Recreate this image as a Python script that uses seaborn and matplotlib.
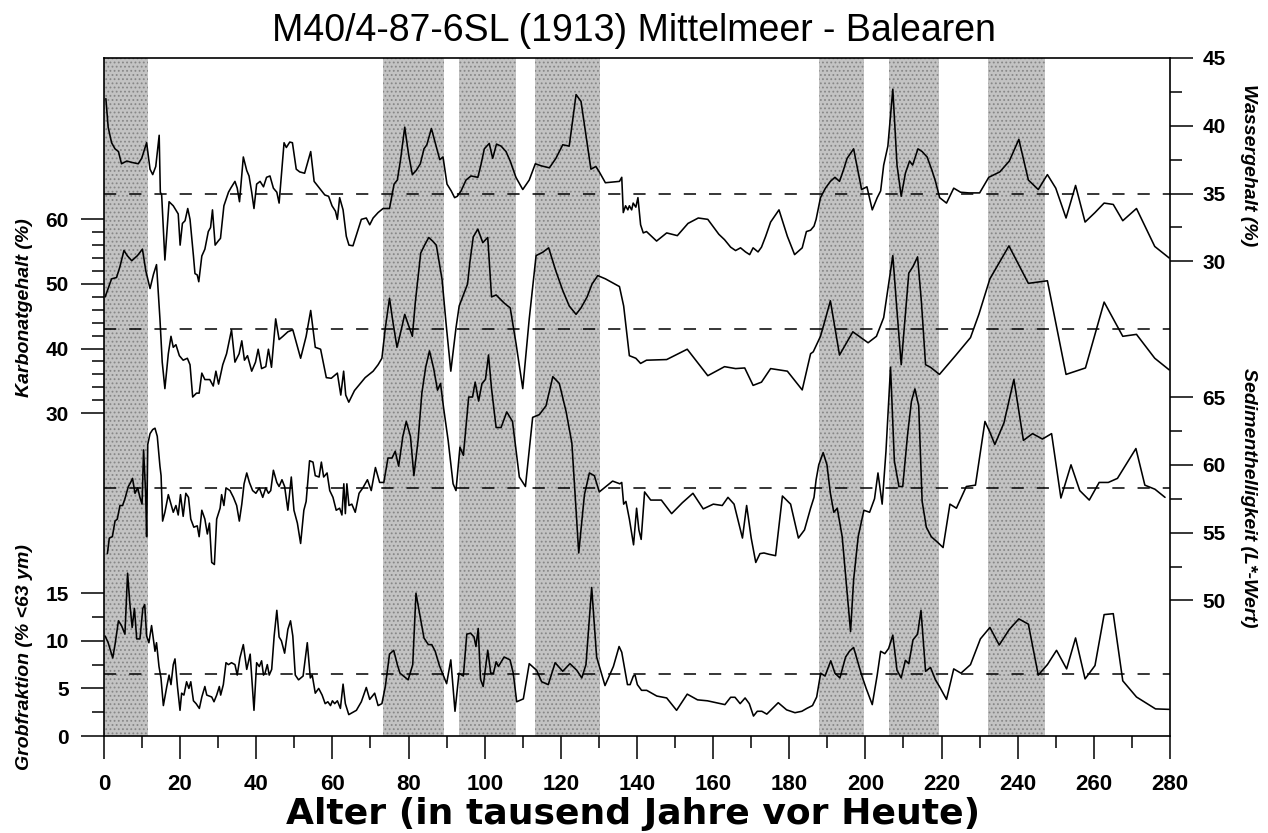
import matplotlib
matplotlib.use("Agg")
import matplotlib.pyplot as plt
import seaborn as sns

# ---------- data ----------
# ages in ka BP, values in the unit of each record

age_wasser = [
    0.5, 1.1, 2.0, 2.9, 3.8, 4.6, 6.0, 7.3, 9.0, 9.9,
    11.2, 12.1, 12.8, 13.6, 14.5, 14.8, 15.15, 16.0, 17.1, 18.2,
    19.5, 20.0, 20.6, 21.3, 22.0, 22.6, 23.5, 23.9, 24.5, 24.9,
    25.7, 26.5, 27.4, 28.0, 28.5, 29.2, 30.0, 30.6, 31.5, 32.7,
    33.3, 34.4, 35.0, 35.6, 36.6, 37.5, 38.1, 38.8, 39.4, 40.1,
    41.0, 41.9, 42.7, 43.6, 44.5, 45.4, 46.0, 47.3, 47.9, 48.8,
    49.5, 50.5, 51.4, 52.7, 54.3, 55.2, 56.6, 58.0, 59.0, 59.9,
    60.8, 61.3, 61.9, 62.8, 63.65, 64.35, 65.4, 66.7, 67.6, 68.9,
    69.8, 70.7, 72.0, 73.3, 75.0, 76.2, 77.05, 77.9, 79.0, 80.0,
    81.0, 82.0, 83.1, 84.05, 84.8, 86.0, 87.0, 88.2, 89.05, 90.1,
    91.2, 92.1, 92.8, 93.8, 95.1, 96.4, 98.2, 99.0, 99.9, 101.2,
    102.1, 103.1, 104.3, 105.6, 106.7, 108.2, 110.0, 111.7, 113.3, 114.8,
    117.0, 118.7, 120.5, 122.2, 124.0, 125.3, 126.8, 127.9, 129.2, 130.1,
    131.7, 135.4, 136.0, 136.4, 137.0, 137.6, 138.0, 138.6, 139.0, 139.7,
    140.25, 140.95, 141.65, 142.5, 145.15, 147.8, 150.6, 153.4, 156.1, 158.6,
    161.5, 163.0, 164.6, 165.9, 167.2, 168.5, 169.6, 170.5, 171.8, 172.7,
    173.8, 175.1, 177.3, 179.5, 181.4, 183.4, 184.5, 185.6, 186.5, 187.05,
    188.2, 189.5, 190.8, 192.0, 193.2, 194.3, 195.2, 196.9, 199.0, 200.4,
    201.8, 203.1, 204.0, 204.8, 205.9, 206.6, 207.2, 208.3, 209.4, 210.5,
    211.6, 212.4, 213.8, 214.9, 216.2, 217.5, 218.4, 219.5, 221.3, 223.2,
    225.0, 227.2, 230.0, 232.4, 235.3, 237.8, 240.3, 242.8, 245.4, 247.8,
    250.0, 252.7, 255.2, 257.7, 260.3, 262.7, 265.1, 267.6, 271.2, 276.0,
    279.8,
]
wasser = [
    42.0, 39.9, 38.75, 38.3, 38.1, 37.2, 37.4, 37.3, 37.2, 37.6,
    38.75, 36.8, 36.4, 37.0, 39.3, 35.1, 34.9, 30.1, 34.4, 34.1,
    33.5, 31.2, 32.8, 33.0, 33.9, 33.1, 30.4, 29.1, 29.0, 28.5,
    30.4, 30.9, 32.2, 32.5, 33.8, 31.2, 31.5, 31.7, 34.1, 35.1,
    35.4, 35.9, 35.4, 34.4, 37.7, 36.7, 36.3, 35.1, 33.9, 35.7,
    35.9, 35.5, 36.2, 36.3, 35.4, 35.1, 34.3, 38.75, 38.4, 38.8,
    38.75, 36.8, 36.6, 36.5, 38.1, 35.9, 35.4, 34.9, 34.8, 34.1,
    33.7, 33.1, 34.7, 33.8, 31.85, 31.2, 31.15, 32.3, 33.1, 33.2,
    32.7, 33.2, 33.6, 33.9, 33.9, 35.7, 36.0, 37.5, 39.9, 37.9,
    36.4, 36.7, 37.2, 38.3, 38.6, 39.8, 38.75, 37.5, 37.7, 35.7,
    35.2, 34.7, 34.8, 35.2, 36.0, 36.3, 36.2, 37.1, 38.3, 38.7,
    37.6, 38.65, 38.5, 38.1, 37.4, 36.2, 35.3, 36.0, 37.2, 37.05,
    36.9, 37.6, 38.6, 38.5, 42.3, 41.8, 38.9, 36.8, 37.0, 36.6,
    35.8, 35.9, 36.2, 33.6, 34.1, 33.8, 34.1, 33.8, 34.3, 34.0,
    34.7, 32.7, 32.1, 32.2, 31.5, 32.1, 31.9, 32.8, 33.2, 33.1,
    32.0, 31.6, 31.05, 30.8, 31.0, 30.7, 30.5, 31.0, 30.7, 31.05,
    31.85, 32.9, 33.8, 31.85, 30.5, 31.0, 32.2, 32.3, 32.6, 33.1,
    34.7, 35.4, 35.9, 36.2, 35.9, 36.8, 37.6, 38.3, 35.3, 35.5,
    33.8, 34.7, 35.2, 37.1, 38.5, 40.8, 42.7, 37.1, 34.8, 36.5,
    37.4, 37.1, 38.3, 38.1, 37.7, 36.7, 35.9, 34.7, 34.3, 35.4,
    35.1, 35.05, 35.05, 36.2, 36.6, 37.4, 39.0, 36.0, 35.3, 36.4,
    35.4, 33.2, 35.6, 32.9, 33.6, 34.3, 34.2, 33.0, 33.9, 31.1,
    30.25,
]

age_karbonat = [
    0.3, 1.1, 2.0, 3.3, 4.2, 5.25, 6.1, 7.3, 8.8, 10.1,
    11.0, 12.1, 13.0, 13.8, 14.7, 15.3, 16.0, 16.9, 17.6, 18.2,
    18.9, 19.8, 20.8, 21.9, 22.6, 23.3, 24.3, 25.0, 25.7, 26.5,
    27.8, 28.7, 29.4, 30.1, 31.2, 32.2, 33.5, 34.4, 35.5, 36.2,
    36.9, 37.7, 38.8, 39.8, 40.5, 41.4, 42.5, 43.2, 44.0, 45.1,
    46.0, 47.0, 48.3, 49.6, 51.65, 53.1, 54.3, 55.5, 56.9, 58.4,
    59.7, 61.3, 62.2, 62.95, 63.5, 64.3, 65.8, 68.6, 70.7, 72.0,
    73.0, 73.9, 75.0, 75.9, 76.96, 77.8, 79.0, 80.0, 81.0, 81.8,
    83.2, 84.2, 85.3, 86.4, 87.3, 88.8, 89.9, 91.1, 92.46, 93.3,
    94.4, 95.5, 96.1, 97.0, 98.2, 99.5, 100.8, 101.8, 103.0, 105.2,
    106.7, 108.2, 110.0, 111.7, 113.5, 115.2, 116.8, 118.7, 120.5, 122.2,
    124.0, 125.3, 126.9, 128.2, 129.7, 131.7, 135.4, 136.5, 138.0, 139.7,
    140.95, 142.5, 147.8, 153.2, 158.6, 163.0, 165.9, 168.3, 170.5, 172.7,
    175.1, 179.5, 183.4, 185.6, 186.3, 188.2, 189.5, 190.8, 193.2, 196.7,
    200.7, 202.9, 204.8, 206.1, 207.2, 208.15, 209.4, 211.4, 212.5, 213.7,
    214.7, 215.8, 217.1, 219.45, 223.65, 227.6, 229.8, 232.7, 237.7, 242.8,
    247.8, 252.7, 257.8, 262.7, 267.6, 271.2, 276.0, 279.8,
]
karbonat = [
    48.0, 49.3, 50.8, 51.0, 52.7, 55.2, 54.4, 53.6, 54.4, 55.4,
    52.0, 49.3, 51.5, 53.0, 44.6, 37.9, 33.8, 39.2, 41.9, 40.2,
    40.6, 38.9, 38.2, 38.5, 37.5, 32.5, 33.1, 33.1, 36.2, 35.2,
    35.2, 34.2, 36.5, 34.5, 37.5, 39.2, 42.9, 37.9, 39.2, 41.2,
    38.2, 38.9, 36.5, 37.9, 39.9, 36.9, 37.2, 39.9, 37.1, 44.6,
    41.4, 41.9, 42.6, 42.9, 38.5, 41.9, 45.9, 40.2, 39.9, 35.5,
    35.4, 36.2, 32.8, 36.5, 32.8, 31.7, 33.5, 35.5, 36.5, 37.5,
    38.5, 43.2, 47.8, 44.1, 40.2, 42.2, 45.3, 43.6, 41.9, 47.3,
    54.8, 56.0, 57.2, 56.6, 56.0, 50.7, 43.6, 36.5, 43.2, 46.6,
    48.3, 50.0, 53.35, 57.3, 58.5, 56.4, 57.2, 48.0, 48.3, 47.0,
    46.3, 40.9, 33.8, 44.6, 54.4, 54.9, 55.6, 52.0, 49.0, 46.6,
    45.3, 46.3, 48.0, 50.0, 51.3, 50.8, 49.6, 46.6, 38.9, 38.5,
    37.7, 38.2, 38.3, 39.9, 35.8, 37.2, 36.9, 37.0, 34.3, 34.8,
    36.9, 36.5, 33.6, 39.2, 39.5, 41.9, 44.6, 47.4, 39.0, 42.6,
    40.9, 41.9, 44.8, 50.0, 54.4, 46.95, 37.5, 51.7, 52.7, 54.2,
    47.3, 37.5, 37.1, 36.0, 38.9, 41.7, 45.3, 50.8, 55.9, 50.1,
    50.5, 36.0, 37.0, 47.2, 41.9, 42.2, 38.5, 36.7,
]

age_hell = [
    0.9, 1.4, 2.2, 2.9, 3.5, 4.2, 4.9, 5.5, 6.4, 7.0,
    7.5, 8.15, 8.85, 9.45, 10.0, 10.4, 10.95, 11.2, 11.5, 12.1,
    12.8, 13.4, 14.0, 14.7, 15.0, 15.4, 16.0, 16.9, 17.6, 18.2,
    18.9, 19.5, 20.1, 20.8, 21.5, 22.2, 22.8, 23.6, 24.5, 25.0,
    25.7, 26.5, 27.15, 27.7, 28.3, 29.0, 29.6, 30.5, 30.9, 31.5,
    32.05, 33.1, 34.0, 34.85, 35.55, 36.2, 36.8, 37.5, 38.2, 39.05,
    39.9, 40.8, 41.7, 42.5, 43.2, 43.8, 44.5, 45.4, 46.0, 46.75,
    47.45, 48.3, 49.2, 49.9, 50.8, 51.65, 52.5, 53.1, 54.0, 54.9,
    55.5, 56.5, 57.1, 57.7, 58.6, 59.3, 60.15, 61.0, 61.9, 62.5,
    63.0, 63.4, 63.8, 64.35, 65.1, 66.0, 67.0, 68.0, 69.2, 70.2,
    71.3, 72.4, 73.5, 74.6, 75.65, 76.5, 77.4, 78.5, 79.4, 80.5,
    81.4, 82.5, 83.5, 84.5, 85.5, 86.6, 87.6, 88.4, 89.2, 90.4,
    91.7, 92.46, 93.5, 94.4, 95.8, 96.8, 97.5, 98.4, 99.3, 100.2,
    101.0, 101.8, 103.0, 104.3, 105.8, 107.3, 109.1, 110.7, 112.6, 114.35,
    116.1, 117.9, 119.6, 121.4, 122.9, 124.7, 126.2, 127.5, 128.8, 130.1,
    133.6, 135.5, 136.0, 136.5, 137.1, 138.0, 139.1, 139.9, 140.5, 141.1,
    142.0, 143.6, 146.4, 149.1, 151.9, 154.7, 157.4, 160.05, 162.4, 163.9,
    165.5, 167.7, 168.8, 170.0, 171.2, 172.3, 173.35, 174.7, 176.4, 178.2,
    180.35, 182.4, 184.0, 185.6, 186.5, 187.05, 187.75, 188.9, 189.9, 190.8,
    191.7, 192.6, 193.9, 194.9, 196.1, 196.9, 198.1, 199.6, 201.1, 202.4,
    203.3, 204.4, 205.4, 206.6, 207.6, 208.8, 209.8, 211.1, 212.1, 213.0,
    214.0, 214.9, 216.0, 217.3, 219.1, 220.4, 222.2, 223.9, 226.5, 228.9,
    231.4, 232.7, 234.0, 236.4, 239.0, 241.5, 243.9, 246.5, 248.9, 251.35,
    254.0, 256.3, 258.8, 261.4, 263.8, 266.2, 271.05, 273.4, 276.05, 278.7,
]
hell = [
    53.45, 54.6, 54.7, 55.85, 56.0, 57.0, 57.0, 57.5, 58.4, 58.7,
    59.0, 57.9, 58.3, 57.6, 57.1, 61.1, 57.9, 54.7, 61.5, 62.3,
    62.6, 62.7, 62.1, 59.9, 59.2, 55.85, 56.5, 57.8, 57.1, 56.5,
    57.0, 56.3, 57.8, 56.2, 57.9, 57.6, 56.0, 55.4, 55.5, 54.7,
    56.65, 56.0, 54.9, 55.7, 52.8, 52.65, 56.0, 56.8, 57.8, 57.0,
    58.3, 58.1, 57.6, 57.0, 55.85, 57.1, 58.6, 59.4, 58.7, 58.1,
    57.9, 58.3, 57.6, 58.3, 57.9, 58.1, 59.6, 58.7, 58.4, 58.9,
    58.4, 56.65, 59.1, 56.65, 55.7, 54.2, 56.65, 57.3, 60.3, 60.2,
    59.2, 59.1, 60.2, 59.1, 59.4, 58.1, 57.6, 56.65, 56.8, 56.3,
    58.6, 56.4, 58.6, 57.0, 57.1, 56.5, 57.9, 58.3, 58.9, 58.1,
    59.8, 58.7, 58.7, 60.5, 60.5, 61.0, 59.9, 62.1, 63.2, 62.1,
    59.2, 61.8, 65.3, 67.2, 68.4, 67.1, 65.5, 66.0, 64.2, 61.8,
    58.6, 58.1, 61.3, 60.7, 65.0, 65.0, 66.1, 64.7, 66.0, 66.3,
    68.1, 65.6, 62.75, 62.75, 63.9, 63.2, 59.1, 58.4, 63.5, 63.7,
    64.35, 66.5, 66.0, 63.9, 61.6, 53.5, 57.8, 59.4, 59.2, 58.0,
    58.8, 58.6, 58.7, 57.1, 57.3, 56.0, 54.1, 56.8, 55.2, 54.5,
    58.0, 57.4, 57.4, 56.4, 57.2, 57.9, 56.75, 57.1, 57.0, 57.6,
    57.1, 54.6, 57.0, 54.6, 52.8, 53.45, 53.5, 53.4, 53.3, 57.7,
    57.1, 54.6, 55.2, 56.8, 57.6, 58.9, 60.0, 60.9, 60.0, 57.9,
    56.5, 56.8, 54.7, 51.5, 47.7, 51.5, 54.7, 56.65, 56.5, 57.5,
    59.4, 57.1, 61.0, 67.2, 60.3, 58.4, 58.4, 62.3, 64.7, 65.6,
    64.35, 57.3, 55.4, 54.7, 54.25, 53.9, 57.1, 56.8, 58.4, 58.5,
    63.2, 62.4, 61.5, 63.1, 66.3, 61.8, 62.3, 61.9, 62.3, 57.55,
    60.0, 58.1, 57.4, 58.7, 58.7, 59.0, 61.2, 58.5, 58.2, 57.6,
]

age_grob = [
    0.3, 1.1, 2.3, 2.9, 3.8, 4.6, 5.5, 6.2, 6.8, 7.4,
    8.0, 8.6, 9.45, 10.2, 10.7, 11.2, 11.8, 12.5, 13.4, 13.8,
    14.45, 14.97, 15.6, 16.5, 17.1, 17.6, 18.2, 18.65, 19.3, 19.97,
    20.4, 21.0, 21.7, 22.3, 22.8, 23.5, 24.2, 25.05, 25.7, 26.5,
    27.0, 28.3, 28.9, 29.6, 30.3, 30.65, 31.35, 32.05, 32.7, 33.5,
    34.4, 35.0, 35.7, 36.6, 37.5, 38.4, 39.4, 40.1, 40.8, 41.4,
    41.9, 42.3, 42.9, 43.4, 44.05, 44.7, 45.4, 46.0, 46.6, 47.45,
    48.3, 49.0, 49.6, 50.25, 51.1, 52.3, 53.4, 54.2, 54.7, 55.5,
    56.4, 57.3, 58.1, 58.8, 59.5, 60.0, 60.6, 61.3, 62.1, 62.8,
    63.4, 64.3, 66.3, 67.6, 68.9, 69.8, 71.1, 72.0, 73.0, 73.9,
    75.0, 76.1, 77.05, 77.75, 79.9, 81.1, 81.95, 83.2, 84.05, 85.2,
    86.1, 87.0, 88.1, 89.1, 90.0, 91.1, 92.2, 93.25, 94.4, 95.3,
    96.3, 97.2, 97.7, 98.3, 98.9, 99.6, 100.8, 101.6, 102.3, 103.0,
    103.6, 105.1, 106.65, 107.5, 108.4, 110.15, 111.7, 113.65, 114.96, 116.7,
    118.5, 120.5, 122.4, 124.2, 125.5, 126.6, 128.1, 129.4, 131.6, 133.8,
    135.3, 136.0, 137.5, 138.2, 139.05, 139.5, 140.1, 141.2, 142.55, 145.2,
    147.8, 150.4, 153.2, 155.9, 158.5, 163.1, 164.6, 165.75, 167.1, 168.4,
    169.5, 170.6, 171.6, 172.8, 174.1, 177.1, 179.3, 181.5, 183.3, 184.6,
    186.1, 187.2, 188.25, 189.4, 190.9, 192.0, 193.3, 194.8, 195.8, 196.9,
    199.0, 200.2, 201.8, 203.1, 204.0, 205.1, 206.1, 207.2, 208.3, 209.4,
    210.5, 211.4, 212.5, 213.7, 214.6, 215.8, 217.1, 218.4, 219.45, 221.3,
    223.2, 225.1, 227.6, 230.2, 232.7, 235.15, 237.8, 240.3, 242.8, 245.4,
    247.8, 250.2, 252.85, 255.2, 257.7, 260.3, 262.7, 265.1, 267.6, 271.2,
    276.2, 279.8,
]
grob = [
    10.5, 9.8, 8.2, 9.6, 12.1, 11.6, 10.7, 17.1, 13.9, 11.4,
    13.4, 10.2, 10.2, 13.4, 13.8, 10.5, 9.8, 11.6, 8.9, 9.8,
    7.3, 6.1, 3.2, 5.2, 6.4, 5.4, 7.5, 8.1, 5.2, 2.7,
    4.5, 4.3, 5.7, 5.0, 5.7, 3.7, 3.4, 2.9, 4.1, 5.2,
    4.3, 4.1, 3.6, 4.3, 5.2, 4.3, 5.4, 7.7, 7.5, 7.7,
    7.5, 6.4, 8.2, 9.6, 7.0, 8.6, 2.7, 7.7, 7.3, 7.9,
    6.4, 6.6, 7.5, 6.4, 7.0, 10.5, 13.2, 10.4, 10.0, 8.7,
    11.2, 12.1, 10.5, 6.4, 5.9, 6.3, 9.8, 6.1, 6.4, 4.5,
    5.0, 4.3, 3.4, 3.6, 3.2, 3.7, 3.4, 3.7, 2.9, 5.45,
    3.4, 2.25, 2.7, 3.6, 5.1, 3.85, 4.5, 3.2, 3.4, 5.2,
    8.6, 9.0, 7.5, 6.6, 5.9, 7.5, 15.0, 12.2, 10.3, 9.6,
    9.6, 8.9, 7.4, 6.4, 5.5, 8.0, 2.6, 6.6, 6.3, 10.7,
    10.8, 10.4, 9.4, 11.3, 5.96, 5.2, 9.0, 6.6, 6.6, 7.8,
    7.3, 8.3, 8.0, 6.6, 3.6, 3.9, 7.6, 6.9, 5.7, 5.4,
    7.7, 6.8, 7.6, 6.9, 6.1, 7.5, 15.6, 8.3, 5.3, 7.3,
    9.4, 8.8, 5.4, 5.4, 6.3, 6.4, 5.4, 4.8, 4.8, 4.2,
    4.0, 2.7, 4.4, 3.8, 3.7, 3.3, 4.07, 4.07, 3.4, 4.0,
    3.4, 2.1, 2.6, 2.6, 2.3, 3.5, 2.75, 2.45, 2.6, 2.9,
    3.2, 4.1, 6.6, 6.3, 7.9, 6.6, 6.1, 8.3, 8.9, 9.3,
    6.4, 5.0, 3.3, 6.4, 8.9, 8.65, 9.2, 10.6, 6.9, 6.1,
    7.95, 7.6, 10.1, 10.7, 13.2, 6.8, 7.2, 5.9, 5.2, 3.85,
    7.05, 6.6, 7.5, 10.2, 11.4, 9.56, 11.2, 12.3, 11.75, 6.4,
    7.5, 9.0, 7.05, 10.3, 6.0, 7.4, 12.75, 12.85, 5.8, 4.1,
    2.85, 2.8,
]

# mean values (dashed lines)
wasser_mean = 35.0
karbonat_mean = 43.0
hell_mean = 58.3
grob_mean = 6.5

# shaded warm stages (ka)
band_start = [0.0, 73.2, 93.3, 113.2, 187.8, 206.3, 232.3]
band_end = [11.5, 89.4, 108.1, 130.3, 199.7, 219.3, 247.2]

# ---------- style ----------
sns.set_style("ticks")
plt.rcParams["font.family"] = ["Liberation Sans", "DejaVu Sans"]
plt.rcParams["font.weight"] = "bold"
plt.rcParams["text.color"] = "black"
plt.rcParams["xtick.color"] = "black"
plt.rcParams["ytick.color"] = "black"
plt.rcParams["xtick.labelcolor"] = "black"
plt.rcParams["ytick.labelcolor"] = "black"
plt.rcParams["hatch.linewidth"] = 0.8
plt.rcParams["hatch.color"] = "#878787"

fig = plt.figure(figsize=(12.68, 8.33), dpi=100)
ax = fig.add_axes([0.082, 0.1164, 0.8407, 0.814])

for a, b in zip(band_start, band_end):
    ax.axvspan(a, b, facecolor="#c3c3c3", edgecolor="#878787",
               hatch="....", linewidth=0, zorder=0)

ax_k = ax.twinx()
ax_w = ax.twinx()
ax_s = ax.twinx()
ax_k.yaxis.tick_left()
ax.yaxis.tick_left()

line_kw = dict(color="black", linewidth=1.15, estimator=None, sort=False)
sns.lineplot(x=age_grob, y=grob, ax=ax, **line_kw)
sns.lineplot(x=age_karbonat, y=karbonat, ax=ax_k, **line_kw)
sns.lineplot(x=age_wasser, y=wasser, ax=ax_w, **line_kw)
sns.lineplot(x=age_hell, y=hell, ax=ax_s, **line_kw)

dash_kw = dict(color="black", linewidth=1.1, linestyle=(0, (8, 8.5)))
ax.axhline(grob_mean, **dash_kw)
ax_k.axhline(karbonat_mean, **dash_kw)
ax_w.axhline(wasser_mean, **dash_kw)
ax_s.axhline(hell_mean, **dash_kw)

ax.set_xlim(0, 280)
ax.set_ylim(0, 71.2)
ax_k.set_ylim(-20, 85)
ax_w.set_ylim(-5, 45)
ax_s.set_ylim(40, 90)

ax.set_xticks([0, 20, 40, 60, 80, 100, 120, 140, 160, 180, 200, 220, 240, 260, 280])
ax.set_xticks([10, 30, 50, 70, 90, 110, 130, 150, 170, 190, 210, 230, 250, 270], minor=True)
ax.set_yticks([0, 5, 10, 15])
ax.set_yticks([2.5, 7.5, 12.5], minor=True)
ax_k.set_yticks([30, 40, 50, 60])
ax_k.set_yticks([32, 34, 36, 38, 42, 44, 46, 48, 52, 54, 56, 58], minor=True)
ax_w.set_yticks([30, 35, 40, 45])
ax_w.set_yticks([32.5, 37.5, 42.5], minor=True)
ax_s.set_yticks([50, 55, 60, 65])
ax_s.set_yticks([52.5, 57.5, 62.5], minor=True)

for a in (ax, ax_k, ax_w, ax_s):
    a.set_xlabel("")
    a.set_ylabel("")
    a.tick_params(axis="y", which="major", direction="out", length=16.5,
                  width=1.1, labelsize=15, color="black")
    a.tick_params(axis="y", which="minor", direction="out", length=8.5,
                  width=1.1, color="black")
ax.tick_params(axis="x", which="major", direction="out", length=16.5,
               width=1.1, labelsize=16, pad=11)
ax.tick_params(axis="x", which="minor", direction="out", length=8.5, width=1.1)
ax.tick_params(axis="y", pad=9)
ax_k.tick_params(axis="y", pad=9)
ax_w.tick_params(axis="y", pad=7)
ax_s.tick_params(axis="y", pad=7)

for a in (ax_k, ax_w, ax_s):
    for sp in a.spines.values():
        sp.set_visible(False)
for sp in ax.spines.values():
    sp.set_visible(True)
    sp.set_linewidth(1.2)
    sp.set_color("black")

# ---------- text ----------
lab_kw = dict(fontsize=14, fontstyle="italic", fontweight="bold",
              ha="center", va="center")
fig.text(25 / 1268, 1 - 308 / 833, "Karbonatgehalt (%)", rotation=90, **lab_kw)
fig.text(25 / 1268, 1 - 657 / 833, "Grobfraktion (% <63 ym)", rotation=90, **lab_kw)
fig.text(1249 / 1268, 1 - 165 / 833, "Wassergehalt (%)", rotation=-90, **lab_kw)
fig.text(1249 / 1268, 1 - 498 / 833, "Sedimenthelligkeit (L*-Wert)", rotation=-90, **lab_kw)

fig.text(0.5, 1 - 31 / 833, "M40/4-87-6SL (1913) Mittelmeer - Balearen",
         ha="center", va="center", fontsize=27, fontweight="normal")
fig.text(0.499, 1 - 814 / 833, "Alter (in tausend Jahre vor Heute)",
         ha="center", va="center", fontsize=26, fontweight="bold",
         family=["DejaVu Sans"])

fig.savefig("out.png", dpi=100)
plt.close(fig)
